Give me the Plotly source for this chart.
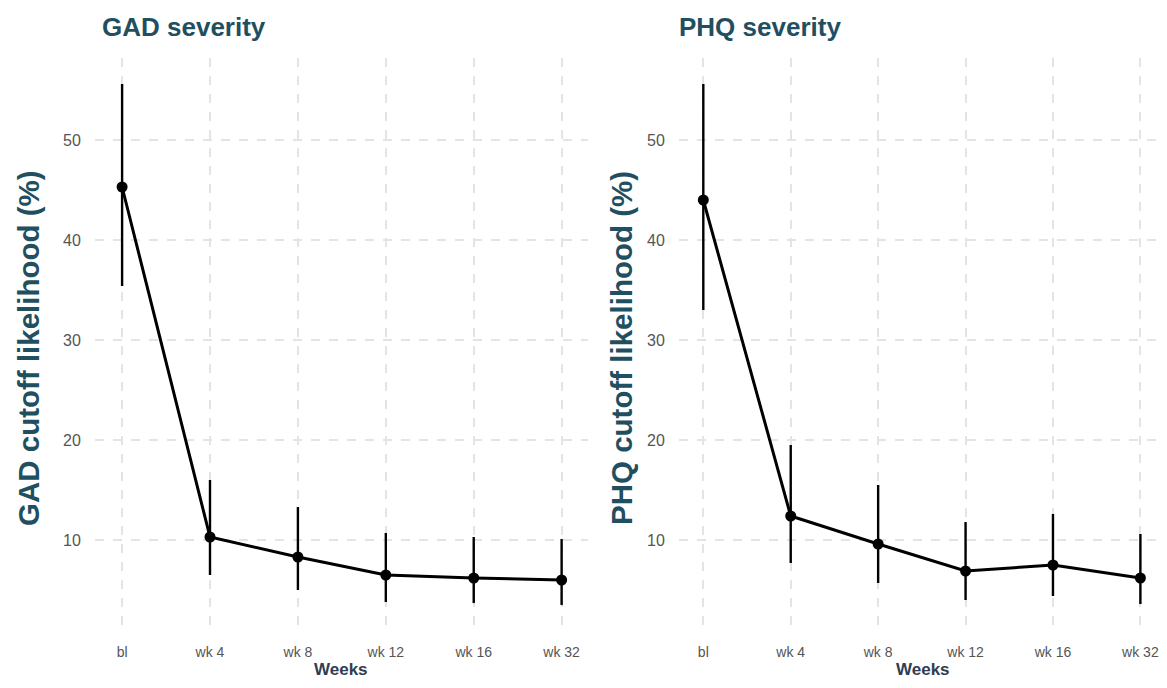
import plotly.graph_objects as go

weeks = ["bl", "wk 4", "wk 8", "wk 12", "wk 16", "wk 32"]

gad_est = [45.3, 10.3, 8.3, 6.5, 6.2, 6.0]
gad_low = [35.4, 6.5, 5.0, 3.8, 3.7, 3.5]
gad_high = [55.6, 16.0, 13.3, 10.7, 10.3, 10.1]

phq_est = [44.0, 12.4, 9.6, 6.9, 7.5, 6.2]
phq_low = [33.0, 7.7, 5.7, 4.0, 4.4, 3.6]
phq_high = [55.6, 19.5, 15.5, 11.8, 12.6, 10.6]

y_ticks = [10, 20, 30, 40, 50]

TEAL = "#1f4f60"
NAVY = "#2e3d4f"
GRID = "#e4e4e4"
FONT = "Liberation Sans, Arial, sans-serif"

# page has an 8px body margin on every side; size figure so no scrollbars appear
OFF = 8
W, H = 1167 - 2 * OFF, 688 - 2 * OFF


def px(x):
    return (x - OFF) / W


def py(y):
    return 1 - (y - OFF) / H


fig = go.Figure()


def add_panel(est, low, high, xa, ya):
    fig.add_trace(go.Scatter(
        x=weeks, y=est, xaxis=xa, yaxis=ya, mode="lines+markers",
        line=dict(color="black", width=3),
        marker=dict(color="black", size=11),
        error_y=dict(type="data", symmetric=False,
                     array=[h - e for h, e in zip(high, est)],
                     arrayminus=[e - l for e, l in zip(est, low)],
                     color="black", thickness=2.4, width=0),
        showlegend=False, cliponaxis=False,
    ))


add_panel(gad_est, gad_low, gad_high, "x", "y")
add_panel(phq_est, phq_low, phq_high, "x2", "y2")

ydom = [py(631), py(58)]
xaxis_common = dict(
    type="category", showgrid=True, gridcolor=GRID, griddash="dash", gridwidth=1.5,
    zeroline=False, showline=False, ticks="",
    tickfont=dict(family=FONT, size=14, color="#555555"),
    ticklabelstandoff=11,
)
yaxis_common = dict(
    range=[0.9, 58.2], tickvals=y_ticks, showgrid=True, gridcolor=GRID,
    griddash="dash", gridwidth=1.5, zeroline=False, showline=False, ticks="",
    tickfont=dict(family=FONT, size=16, color="#555555"),
    ticklabelstandoff=13, domain=ydom,
)

fig.update_layout(
    width=W, height=H,
    margin=dict(l=0, r=0, t=0, b=0),
    paper_bgcolor="white", plot_bgcolor="white",
    xaxis=dict(xaxis_common, domain=[px(95), px(589)], range=[-0.31, 5.3], anchor="y"),
    yaxis=dict(yaxis_common, anchor="x"),
    xaxis2=dict(xaxis_common, domain=[px(680), 1.0], range=[-0.28, 5.19], anchor="y2"),
    yaxis2=dict(yaxis_common, anchor="x2"),
)

ann = []
ann.append(dict(text="<b>GAD severity</b>", x=px(100), y=py(27), xref="paper", yref="paper",
                xanchor="left", yanchor="middle", showarrow=False,
                font=dict(family=FONT, size=26, color=TEAL)))
ann.append(dict(text="<b>PHQ severity</b>", x=px(678), y=py(27), xref="paper", yref="paper",
                xanchor="left", yanchor="middle", showarrow=False,
                font=dict(family=FONT, size=26, color=TEAL)))
ann.append(dict(text="<b>GAD cutoff likelihood (%)</b>", x=px(28), y=py(348), xref="paper",
                yref="paper", xanchor="center", yanchor="middle", textangle=-90, showarrow=False,
                font=dict(family=FONT, size=29.5, color=TEAL)))
ann.append(dict(text="<b>PHQ cutoff likelihood (%)</b>", x=px(622), y=py(348), xref="paper",
                yref="paper", xanchor="center", yanchor="middle", textangle=-90, showarrow=False,
                font=dict(family=FONT, size=29.5, color=TEAL)))
ann.append(dict(text="<b>Weeks</b>", x=px(342), y=0, xref="paper", yref="paper",
                xanchor="center", yanchor="bottom", showarrow=False, borderpad=0,
                font=dict(family=FONT, size=17, color=NAVY)))
ann.append(dict(text="<b>Weeks</b>", x=px(925), y=0, xref="paper", yref="paper",
                xanchor="center", yanchor="bottom", showarrow=False, borderpad=0,
                font=dict(family=FONT, size=17, color=NAVY)))
fig.update_layout(annotations=ann)

fig.write_html("out.html")
